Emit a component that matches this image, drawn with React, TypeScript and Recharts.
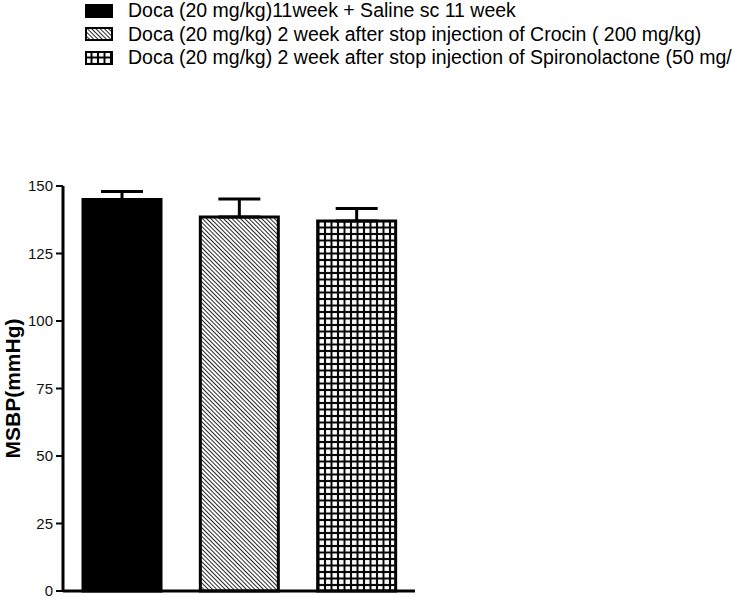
import { BarChart, Bar, XAxis, YAxis, Legend, ErrorBar, Cell } from 'recharts';

const groups = ['Saline', 'Crocin', 'Spironolactone'];
const msbp = [145, 138.5, 137];
const sem = [3, 6.7, 4.7];
const yTicks = [0, 25, 50, 75, 100, 125, 150];
const legendLabels = [
  'Doca (20 mg/kg)11week + Saline sc 11 week',
  'Doca (20 mg/kg) 2 week after stop injection of Crocin ( 200 mg/kg)',
  'Doca (20 mg/kg) 2 week after stop injection of Spironolactone (50 mg/kg)',
];

const fills = ['#000', 'url(#hatch)', 'url(#grid)'];

const data = groups.map((name, i) => ({ name, value: msbp[i], err: [0, sem[i]] }));

const FONT = '"Liberation Sans", Arial, sans-serif';

function Patterns({ prefix = '' }: { prefix?: string }) {
  return (
    <defs>
      <pattern id={prefix + 'hatch'} width="3" height="3" patternUnits="userSpaceOnUse" patternTransform="rotate(-45)">
        <rect width="3" height="3" fill="#fff" />
        <line x1="0" y1="0" x2="0" y2="3" stroke="#000" strokeWidth="1.7" />
      </pattern>
      <pattern id={prefix + 'grid'} width="6.5" height="6.5" patternUnits="userSpaceOnUse">
        <rect width="6.5" height="6.5" fill="#000" />
        <rect x="1" y="1" width="4.5" height="4.5" fill="#fff" />
      </pattern>
    </defs>
  );
}

function LegendBox() {
  const swatch = ['#000', 'url(#lg-hatch)', 'url(#lg-grid)'];
  return (
    <div style={{ fontFamily: FONT, fontSize: 19.5, lineHeight: '23.5px', color: '#000', whiteSpace: 'nowrap' }}>
      <svg width="0" height="0" style={{ position: 'absolute' }}>
        <Patterns prefix="lg-" />
      </svg>
      {legendLabels.map((label, i) => (
        <div key={label} style={{ display: 'flex', alignItems: 'center', height: 23.5 }}>
          <svg width={28} height={14} style={{ marginRight: 15 }}>
            <rect x={1} y={1} width={26} height={12} fill={swatch[i]} stroke="#000" strokeWidth={2} />
          </svg>
          <span>{label}</span>
        </div>
      ))}
    </div>
  );
}

export default function App() {
  return (
    <div style={{ width: 732, height: 598, overflow: 'hidden', position: 'relative', background: '#fff' }}>
      <style>{'body{margin:0}'}</style>
      <BarChart
        width={732}
        height={598}
        data={data}
        margin={{ top: 186, right: 317, left: 0, bottom: 6 }}
      >
        <Patterns />
        <XAxis
          dataKey="name"
          tick={false}
          tickLine={false}
          height={1}
          axisLine={{ stroke: '#000', strokeWidth: 3 }}
        />
        <YAxis
          width={63}
          domain={[0, 150]}
          ticks={yTicks}
          interval={0}
          tickSize={7}
          tickMargin={3}
          axisLine={{ stroke: '#000', strokeWidth: 3 }}
          tickLine={{ stroke: '#000', strokeWidth: 2 }}
          tick={{ fill: '#111', fontSize: 15, fontFamily: FONT }}
          label={{
            value: 'MSBP(mmHg)',
            angle: -90,
            position: 'center',
            dx: -19,
            style: { fontSize: 21, fontWeight: 'bold', fill: '#000', fontFamily: FONT },
          }}
        />
        <Legend
          layout="horizontal"
          verticalAlign="middle"
          align="center"
          wrapperStyle={{ top: -1, left: 85, width: 720 }}
          content={() => <LegendBox />}
        />
        <Bar dataKey="value" barSize={78} stroke="#000" strokeWidth={3} isAnimationActive={false}>
          {data.map((d, i) => (
            <Cell key={d.name} fill={fills[i]} />
          ))}
          <ErrorBar dataKey="err" width={21} stroke="#000" strokeWidth={3} direction="y" />
        </Bar>
      </BarChart>
    </div>
  );
}
